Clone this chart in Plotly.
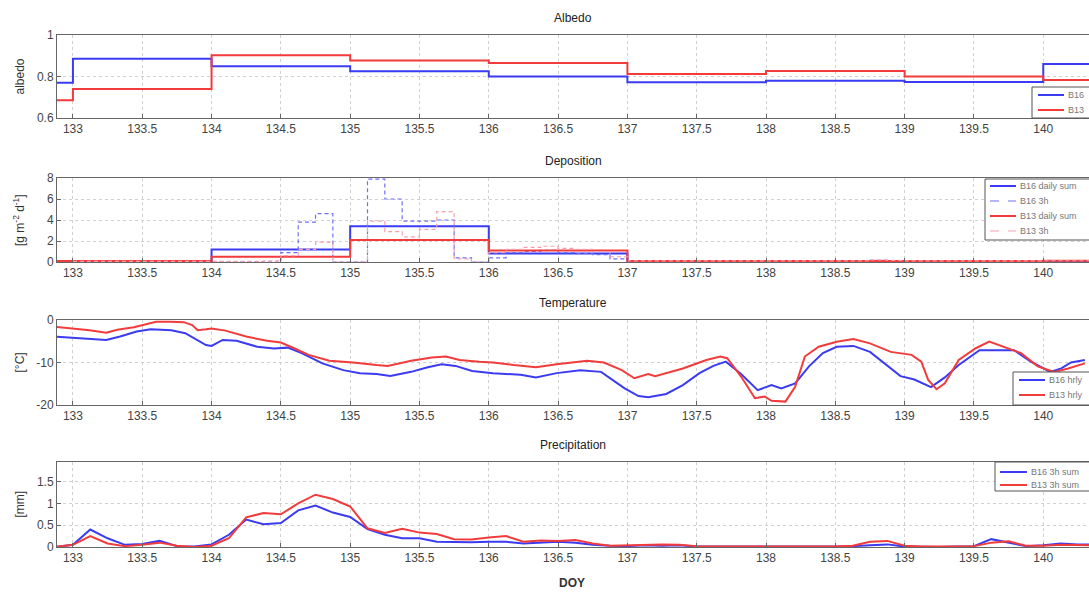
import numpy as np
import plotly.graph_objects as go

# ---------------- data ----------------
day_start = [132, 133, 134, 135, 136, 137, 138, 139, 140, 141]
albedo_b16 = [0.77, 0.885, 0.85, 0.825, 0.80, 0.772, 0.78, 0.773, 0.86, 0.86]
albedo_b13 = [0.685, 0.74, 0.902, 0.877, 0.865, 0.812, 0.826, 0.80, 0.783, 0.783]

dep_daily_b16 = [0.05, 0.05, 1.2, 3.4, 0.8, 0.05, 0.05, 0.05, 0.1, 0.1]
dep_daily_b13 = [0.1, 0.1, 0.5, 2.1, 1.1, 0.1, 0.1, 0.1, 0.12, 0.12]

doy_3h = np.round(np.arange(133.0, 140.376, 0.125), 3)
dep_3h_b16 = [0.1, 0.1, 0.1, 0.1, 0.05, 0.05, 0.05, 0.05,      # 133
              0.0, 0.0, 0.0, 0.0, 0.9, 3.8, 4.6, 0.0,          # 134
              0.0, 7.9, 6.0, 3.9, 3.9, 4.0, 0.4, 0.0,          # 135
              0.4, 0.9, 1.0, 1.1, 0.9, 0.8, 0.7, 0.3,          # 136
              0.05, 0.05, 0.05, 0.05, 0.05, 0.05, 0.05, 0.05,  # 137
              0.05, 0.05, 0.05, 0.05, 0.05, 0.05, 0.15, 0.1,   # 138
              0.05, 0.05, 0.05, 0.05, 0.05, 0.05, 0.05, 0.05,  # 139
              0.1, 0.1, 0.1, 0.1]                              # 140
dep_3h_b13 = [0.05, 0.05, 0.05, 0.05, 0.05, 0.05, 0.05, 0.05,
              0.05, 0.05, 0.05, 0.1, 0.6, 1.2, 1.9, 0.0,
              0.0, 3.9, 2.9, 2.4, 3.1, 4.8, 0.3, 0.0,
              0.9, 1.2, 1.4, 1.5, 1.3, 1.2, 1.0, 0.5,
              0.1, 0.1, 0.1, 0.1, 0.1, 0.1, 0.1, 0.1,
              0.1, 0.1, 0.1, 0.1, 0.1, 0.1, 0.2, 0.15,
              0.1, 0.1, 0.1, 0.1, 0.1, 0.1, 0.1, 0.1,
              0.12, 0.12, 0.12, 0.12]

temp_doy_b13 = [132.87, 133.0, 133.12, 133.24, 133.32, 133.44, 133.54, 133.6, 133.7, 133.8, 133.86,
                133.9, 133.96, 134.0, 134.1, 134.25, 134.4, 134.5, 134.6, 134.7, 134.85, 135.02,
                135.19, 135.27, 135.44, 135.59, 135.69, 135.79, 135.93, 136.03, 136.18, 136.34,
                136.49, 136.71, 136.83, 136.96, 137.05, 137.15, 137.2, 137.4, 137.57, 137.67,
                137.72, 137.82, 137.92, 137.99, 138.04, 138.14, 138.21, 138.28, 138.38, 138.51,
                138.63, 138.75, 138.9, 139.05, 139.12, 139.17, 139.23, 139.29, 139.39, 139.51,
                139.61, 139.71, 139.84, 139.96, 140.08, 140.18, 140.3]
temp_b13 = [-1.6, -2.0, -2.4, -3.0, -2.3, -1.7, -0.8, -0.4, -0.4, -0.5, -1.2,
            -2.4, -2.2, -2.0, -2.5, -3.9, -4.9, -5.3, -6.7, -8.2, -9.6, -10.0,
            -10.6, -10.8, -9.6, -8.8, -8.6, -9.4, -9.8, -10.0, -10.6, -11.1,
            -10.4, -9.6, -10.0, -11.8, -13.7, -12.7, -13.2, -11.4, -9.4, -8.6,
            -9.0, -13.3, -18.4, -18.0, -19.0, -19.2, -15.7, -8.6, -6.3, -5.1,
            -4.5, -5.5, -7.5, -8.2, -9.8, -14.1, -16.3, -14.9, -9.4, -6.7,
            -5.1, -6.3, -7.8, -10.9, -12.2, -11.4, -10.2]

temp_doy_b16 = [132.87, 133.07, 133.24, 133.34, 133.46, 133.56, 133.71, 133.81, 133.96, 134.0,
                134.08, 134.18, 134.33, 134.45, 134.55, 134.65, 134.8, 134.95, 135.07, 135.19,
                135.29, 135.44, 135.56, 135.66, 135.76, 135.88, 136.03, 136.23, 136.34, 136.49,
                136.66, 136.81, 136.91, 136.98, 137.08, 137.15, 137.28, 137.4, 137.52, 137.62,
                137.71, 137.82, 137.94, 138.04, 138.11, 138.21, 138.31, 138.41, 138.51, 138.63,
                138.75, 138.87, 138.97, 139.07, 139.19, 139.29, 139.39, 139.54, 139.66, 139.79,
                139.91, 140.05, 140.13, 140.2, 140.3]
temp_b16 = [-3.9, -4.3, -4.7, -3.9, -2.7, -2.2, -2.4, -3.1, -5.9, -6.1,
            -4.7, -4.9, -6.3, -6.7, -6.5, -7.8, -10.2, -11.8, -12.5, -12.7,
            -13.2, -12.2, -11.1, -10.4, -10.8, -12.0, -12.5, -12.9, -13.5, -12.5,
            -11.8, -12.2, -14.5, -16.1, -17.9, -18.2, -17.4, -15.3, -12.5, -10.8,
            -9.8, -12.7, -16.5, -15.3, -16.1, -14.9, -10.9, -7.8, -6.3, -6.1,
            -7.5, -10.6, -13.2, -14.0, -15.8, -13.5, -10.6, -7.1, -7.1, -7.1,
            -9.8, -12.2, -11.4, -10.0, -9.4]

precip_doy = np.round(np.arange(132.875, 140.376, 0.125), 3)
precip_b16 = [0.0, 0.05, 0.4, 0.2, 0.05, 0.07, 0.14, 0.02,
              0.01, 0.06, 0.28, 0.63, 0.52, 0.55, 0.84, 0.95,
              0.79, 0.69, 0.41, 0.28, 0.2, 0.2, 0.12, 0.11,
              0.11, 0.12, 0.12, 0.08, 0.1, 0.12, 0.1, 0.05,
              0.03, 0.02, 0.04, 0.03, 0.04, 0.01, 0.01, 0.01,
              0.01, 0.01, 0.01, 0.01, 0.01, 0.01, 0.02, 0.04,
              0.06, 0.01, 0.0, 0.0, 0.01, 0.02, 0.18, 0.1,
              0.02, 0.04, 0.08, 0.06, 0.06]
precip_b13 = [0.0, 0.05, 0.25, 0.08, 0.02, 0.05, 0.1, 0.03,
              0.0, 0.03, 0.2, 0.68, 0.78, 0.75, 1.0, 1.2,
              1.1, 0.93, 0.43, 0.32, 0.42, 0.33, 0.3, 0.18,
              0.17, 0.22, 0.25, 0.12, 0.15, 0.14, 0.16, 0.08,
              0.03, 0.04, 0.05, 0.06, 0.05, 0.02, 0.01, 0.01,
              0.01, 0.01, 0.01, 0.01, 0.01, 0.01, 0.03, 0.12,
              0.14, 0.03, 0.01, 0.01, 0.01, 0.02, 0.1, 0.13,
              0.03, 0.03, 0.05, 0.04, 0.04]

panel_titles = ["Albedo", "Deposition", "Temperature", "Precipitation"]
y_titles = ["albedo", "[g m<sup>-2</sup> d<sup>-1</sup>]", "[°C]", "[mm]"]
legend_labels = [["B16", "B13"],
                 ["B16 daily sum", "B16 3h", "B13 daily sum", "B13 3h"],
                 ["B16 hrly", "B13 hrly"],
                 ["B16 3h sum", "B13 3h sum"]]

# ---------------- layout helpers ----------------
W, H = 1089, 593
L = 57
def px_x(px):
    return (px - L) / (W - L)
def px_y(py):
    return 1 - py / H

BLUE = "#3b3bf2"
RED = "#f23b3b"
BLUE_L = "#6f6ff2"
RED_L = "#f5a0b0"
FONT = "Liberation Sans, Arial, sans-serif"

panels_px = [(35, 118), (178, 262), (320, 405), (462, 547)]

fig = go.Figure()

def add(x, y, color, width, ax, dash=None, shape="linear"):
    sfx = "" if ax == 1 else str(ax)
    fig.add_trace(go.Scatter(x=x, y=y, mode="lines", showlegend=False, hoverinfo="skip",
                             line=dict(color=color, width=width, shape=shape, dash=dash),
                             xaxis="x" + sfx, yaxis="y" + sfx))

add(day_start, albedo_b16, BLUE, 2, 1, shape="hv")
add(day_start, albedo_b13, RED, 2, 1, shape="hv")
add(day_start, dep_daily_b16, BLUE, 2, 2, shape="hv")
add(doy_3h, dep_3h_b16, BLUE_L, 1.2, 2, dash="4px,3px", shape="hv")
add(day_start, dep_daily_b13, RED, 2, 2, shape="hv")
add(doy_3h, dep_3h_b13, RED_L, 1.2, 2, dash="4px,3px", shape="hv")
add(temp_doy_b16, temp_b16, BLUE, 2, 3)
add(temp_doy_b13, temp_b13, RED, 2, 3)
add(precip_doy, precip_b16, BLUE, 2, 4)
add(precip_doy, precip_b13, RED, 2, 4)

xrange = [132.885, 140.33]
yranges = [[0.6, 1.0], [0, 8], [-20, 0], [0, 1.95]]
ytickvals = [[0.6, 0.8, 1.0], [0, 2, 4, 6, 8], [-20, -10, 0], [0, 0.5, 1, 1.5]]
yticktext = [["0.6", "0.8", "1"], ["0", "2", "4", "6", "8"], ["-20", "-10", "0"], ["0", "0.5", "1", "1.5"]]

axis_common = dict(showline=True, mirror=True, linecolor="#666", linewidth=1, ticks="inside", ticklen=4,
                   tickcolor="#666", showgrid=True, gridcolor="#d0d0d0", griddash="dot", zeroline=False,
                   automargin=False, tickfont=dict(family=FONT, size=12, color="#444"))

layout = dict(width=W, height=H, margin=dict(l=L, r=0, t=0, b=0, autoexpand=False),
              plot_bgcolor="white", paper_bgcolor="white", font=dict(family=FONT))
annotations = []
shapes = []
for i, (top, bot) in enumerate(panels_px):
    sfx = "" if i == 0 else str(i + 1)
    layout["xaxis" + sfx] = dict(domain=[0, 1], range=xrange, tick0=133, dtick=0.5, anchor="y" + sfx, **axis_common)
    layout["yaxis" + sfx] = dict(domain=[px_y(bot), px_y(top)], range=yranges[i], tickvals=ytickvals[i],
                                 ticktext=yticktext[i], anchor="x" + sfx, **axis_common)
    annotations.append(dict(text=panel_titles[i], x=px_x(573), y=px_y(top - 17), xref="paper", yref="paper",
                            xanchor="center", yanchor="middle",
                            showarrow=False, font=dict(family=FONT, size=12, color="#222")))
    annotations.append(dict(text=y_titles[i], x=px_x(19), y=px_y((top + bot) / 2), xref="paper", yref="paper",
                            xanchor="center", yanchor="middle",
                            showarrow=False, textangle=-90, font=dict(family=FONT, size=12, color="#333")))

annotations.append(dict(text="<b>DOY</b>", x=px_x(572), y=px_y(583), xref="paper", yref="paper",
                        xanchor="center", yanchor="middle",
                        showarrow=False, font=dict(family=FONT, size=12, color="#333")))

# custom legends (box left, box top, box bottom, line x0, line x1, item y positions)
legend_geom = [
    (1032, 87, 118, 1038, 1064, [95, 110]),
    (985, 179, 240, 990, 1016, [186, 201, 216, 231]),
    (1013, 372, 405, 1019, 1045, [380, 395]),
    (995, 462, 491, 1000, 1027, [472, 485]),
]
legend_styles = [
    [(BLUE, 2, None), (RED, 2, None)],
    [(BLUE, 2, None), (BLUE_L, 1.2, "dash"), (RED, 2, None), (RED_L, 1.2, "dash")],
    [(BLUE, 2, None), (RED, 2, None)],
    [(BLUE, 2, None), (RED, 2, None)],
]
for (bx, bt, bb, lx0, lx1, ys), labels, styles in zip(legend_geom, legend_labels, legend_styles):
    shapes.append(dict(type="rect", xref="paper", yref="paper", x0=px_x(bx), x1=px_x(1100),
                       y0=px_y(bb), y1=px_y(bt), fillcolor="white", line=dict(color="#555", width=1), layer="above"))
    for yy, lab, (c, w, d) in zip(ys, labels, styles):
        shapes.append(dict(type="line", xref="paper", yref="paper", x0=px_x(lx0), x1=px_x(lx1),
                           y0=px_y(yy), y1=px_y(yy), line=dict(color=c, width=w, dash=d), layer="above"))
        annotations.append(dict(text=lab, x=px_x(lx1 + 2), y=px_y(yy), xref="paper", yref="paper",
                                xanchor="left", yanchor="middle", showarrow=False,
                                font=dict(family=FONT, size=9, color="#777")))

layout["annotations"] = annotations
layout["shapes"] = shapes

fig.update_layout(**layout)
fig.write_html("out.html", config={"displayModeBar": False},
               post_script="document.body.style.margin='0';document.body.style.padding='0';")
